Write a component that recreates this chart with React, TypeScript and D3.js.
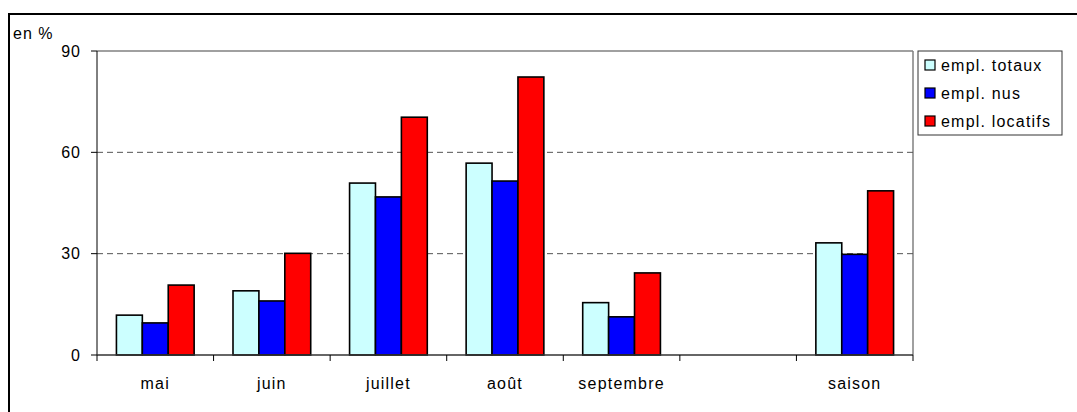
import * as d3 from 'd3';

const categories = ['mai', 'juin', 'juillet', 'août', 'septembre', '', 'saison'];
const seriesNames = ['empl. totaux', 'empl. nus', 'empl. locatifs'];
const totaux = [11.8, 19, 50.9, 56.8, 15.5, null, 33.2];
const nus = [9.5, 16, 46.8, 51.5, 11.3, null, 29.8];
const locatifs = [20.7, 30.1, 70.4, 82.3, 24.3, null, 48.6];
const yTicks = [0, 30, 60, 90];
const colors = ['#ccffff', '#0000ff', '#ff0000'];

const W = 1077;
const H = 412;
const plot = { left: 97, right: 913, top: 51, bottom: 355 };
const font = '"Liberation Sans", Arial, sans-serif';

export default function App() {
  const series = [totaux, nus, locatifs];

  const x = d3.scaleBand<string>()
    .domain(categories.map((c, i) => i + ''))
    .range([plot.left, plot.right])
    .paddingInner(0)
    .paddingOuter(0);

  const inner = d3.scaleBand<number>()
    .domain([0, 1, 2])
    .range([0, x.bandwidth()])
    .paddingOuter(0.75)
    .paddingInner(0);

  const y = d3.scaleLinear().domain([0, 90]).range([plot.bottom, plot.top]);

  const tickXs = d3.range(categories.length + 1).map(i =>
    i < categories.length ? (x(i + '') as number) : plot.right);

  return (
    <svg width={W} height={H} style={{ position: 'absolute', left: 0, top: 0, background: '#fff' }}
      fontFamily={font} fontSize={16}>
      <rect x={9} y={14} width={1080} height={420} fill="#fff" stroke="#000" strokeWidth={2} />
      <text x={13} y={39} letterSpacing={1}>en %</text>

      {/* plot area frame */}
      <line x1={plot.left} x2={plot.right} y1={plot.top} y2={plot.top} stroke="#808080" strokeWidth={1.5} />
      <line x1={plot.right} x2={plot.right} y1={plot.top} y2={plot.bottom} stroke="#808080" strokeWidth={1.5} />

      {yTicks.filter(t => t > 0 && t < 90).map(t => (
        <line key={t} x1={plot.left} x2={plot.right} y1={y(t)} y2={y(t)}
          stroke="#555" strokeDasharray="6,4" />
      ))}

      {series.map((vals, s) =>
        vals.map((v, i) => v == null ? null : (
          <rect key={s + '-' + i}
            x={(x(i + '') as number) + (inner(s) as number)}
            y={y(v)}
            width={inner.bandwidth()}
            height={y(0) - y(v)}
            fill={colors[s]} stroke="#000" strokeWidth={1.6} />
        ))
      )}

      {/* axes */}
      <line x1={plot.left} x2={plot.left} y1={plot.top} y2={plot.bottom} stroke="#000" />
      <line x1={plot.left} x2={plot.right} y1={plot.bottom} y2={plot.bottom} stroke="#333" strokeWidth={1.3} />
      {yTicks.map(t => (
        <g key={t}>
          <line x1={plot.left - 6} x2={plot.left} y1={y(t)} y2={y(t)} stroke="#000" />
          <text x={81} y={y(t)} dy="0.35em" textAnchor="end" letterSpacing={1}>{t}</text>
        </g>
      ))}
      {tickXs.map((tx, i) => (
        <line key={i} x1={tx} x2={tx} y1={plot.bottom} y2={plot.bottom + 6} stroke="#000" />
      ))}
      {categories.map((c, i) => (
        <text key={i} x={(x(i + '') as number) + x.bandwidth() / 2} y={383} dy="0.35em"
          textAnchor="middle" letterSpacing={1.2}>{c}</text>
      ))}

      {/* legend */}
      <rect x={918} y={51} width={144} height={84} fill="#fff" stroke="#333" />
      {seriesNames.map((n, i) => (
        <g key={n} transform={`translate(925, ${65 + i * 28})`}>
          <rect x={0} y={-5} width={10} height={10} fill={colors[i]} stroke="#000" strokeWidth={1.2} />
          <text x={16} y={0} dy="0.35em" letterSpacing={1.2}>{n}</text>
        </g>
      ))}
    </svg>
  );
}
